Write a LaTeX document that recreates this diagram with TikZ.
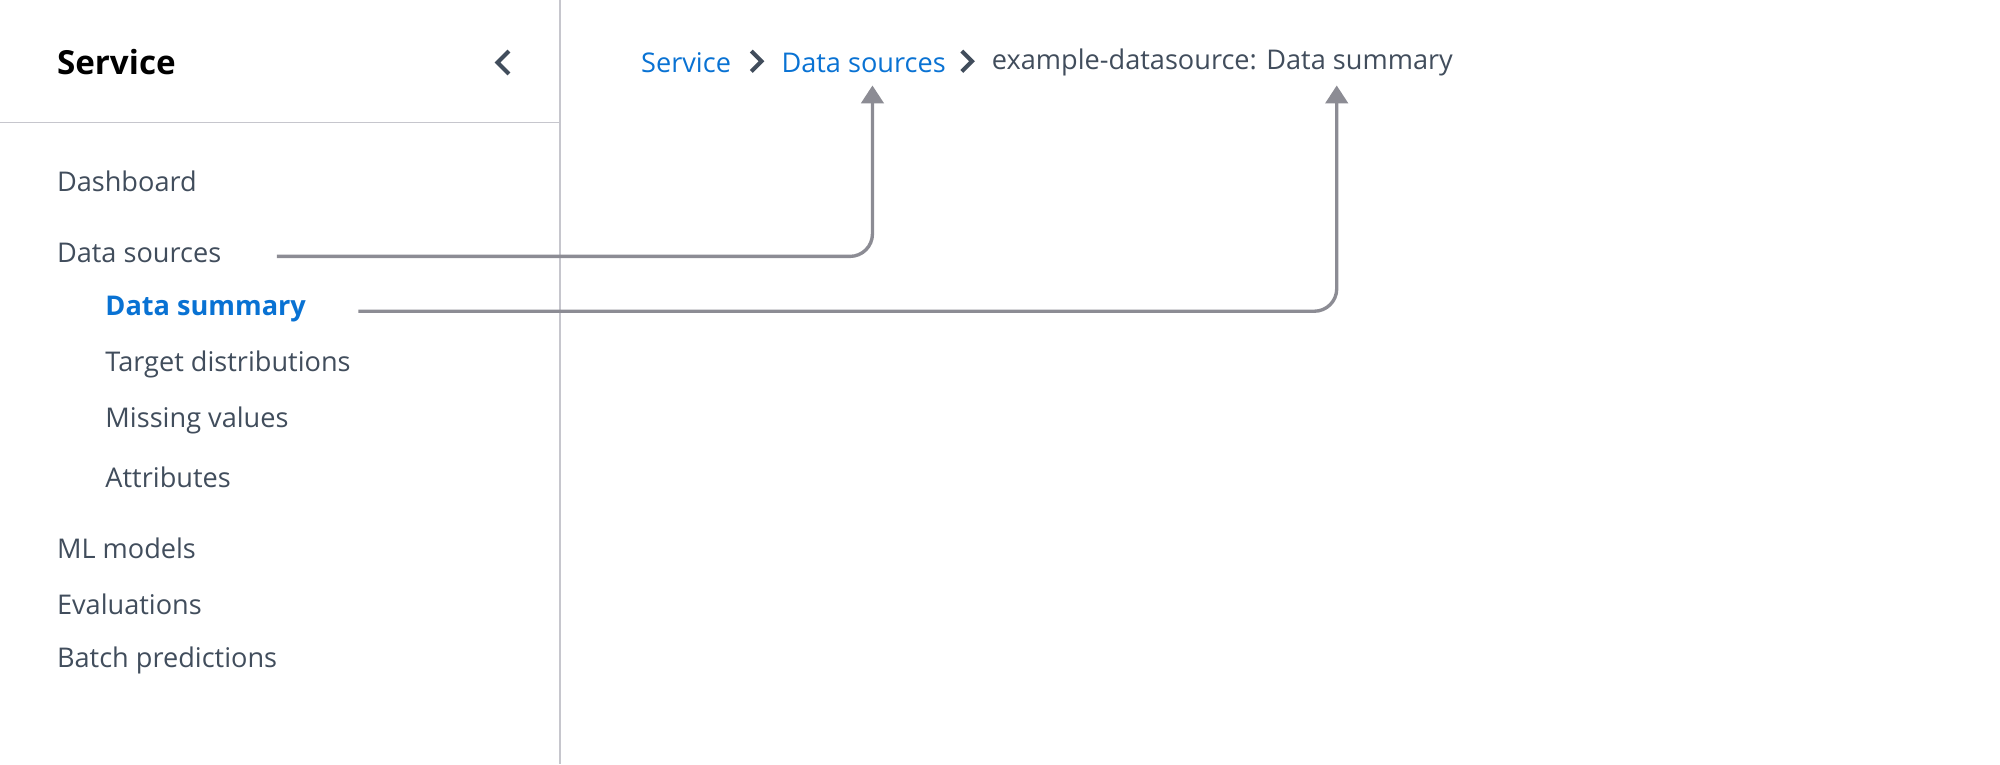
\documentclass[tikz,border=0pt]{standalone}
\usepackage{fontspec}
\setmainfont{Open Sans}
\usetikzlibrary{arrows.meta}
\definecolor{awsblue}{HTML}{0972D3}
\definecolor{navtext}{HTML}{414D5C}
\definecolor{rulegray}{HTML}{C6C6CD}
\definecolor{pointer}{HTML}{8C8C94}
\tikzset{
  nav/.style={anchor=west, inner sep=0pt, text=navtext, font=\fontsize{6.05}{7}\selectfont},
  crumb/.style={nav, text=awsblue},
  chev/.style={draw=navtext, line width=0.9pt},
  pointer/.style={draw=pointer, line width=0.75pt, rounded corners=5pt, -{Triangle[length=4pt,width=5pt]}}
}
\begin{document}
\begin{tikzpicture}[x=0.01cm, y=-0.01cm]
\useasboundingbox (0,0) rectangle (1568,599);
% side panel
\draw [rulegray, line width=0.4pt] (439,0) -- (439,599);
\draw [rulegray, line width=0.4pt] (0,96) -- (439,96);
\node [nav, font=\fontsize{7.4}{8}\selectfont\bfseries, text=black] (title) at (44,49) {Service};
\draw [chev] (399,40) -- (390,49) -- (399,58);
\node [nav] (dash) at (44,142) {Dashboard};
\node [nav] (dsrc) at (44,198) {Data sources};
\node [nav, text=awsblue, font=\fontsize{6.05}{7}\selectfont\bfseries] (dsum) at (82,242) {Data summary};
\node [nav] (tdist) at (82,286) {Target distributions};
\node [nav] (miss) at (82,330) {Missing values};
\node [nav] (attr) at (82,374) {Attributes};
\node [nav] (mlm) at (44,430) {ML models};
\node [nav] (eval) at (44,474) {Evaluations};
\node [nav] (batch) at (44,518) {Batch predictions};
% breadcrumb
\node [crumb] (cService) at (502,49) {Service};
\draw [chev] (589,40) -- (597,48) -- (589,56);
\node [crumb] (cSources) at (612,49) {Data sources};
\draw [chev] (754,40) -- (762,48) -- (754,56);
\node [nav] (cSummary) at (777,49) {example-datasource: Data summary};
% pointers
\coordinate (fromSrc) at (217,201);
\coordinate (fromSum) at (281,244);
\coordinate (toSrc) at (684,67);
\coordinate (toSum) at (1048,67);
\draw [pointer] (fromSrc) -| (toSrc);
\draw [pointer] (fromSum) -| (toSum);
\end{tikzpicture}
\end{document}
